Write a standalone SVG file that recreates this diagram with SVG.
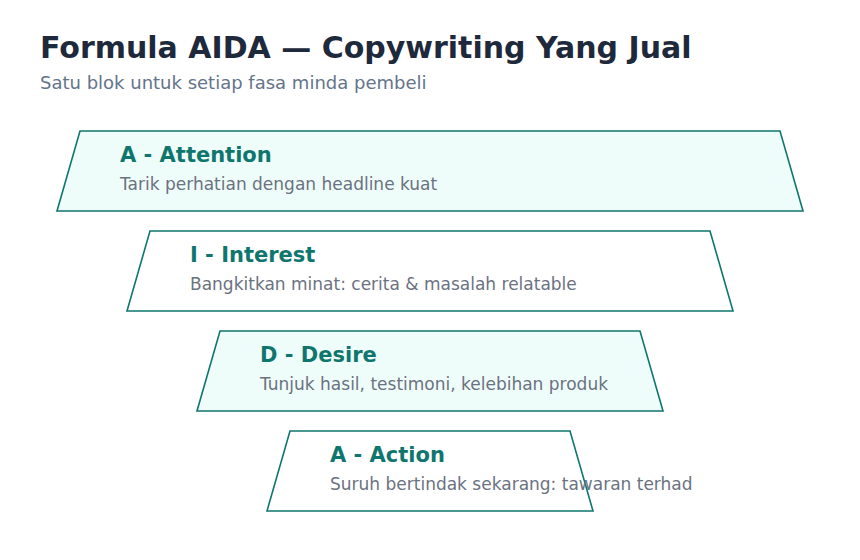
<svg xmlns="http://www.w3.org/2000/svg" width="860" height="560" viewBox="0 0 860 560">
<style>
.title{font-family:"DejaVu Sans",sans-serif;font-weight:bold;font-size:30px;fill:#1e293b}
.sub{font-family:"DejaVu Sans",sans-serif;font-size:18px;fill:#64748b}
.shape{stroke:#0f766e;stroke-width:1.6;stroke-linejoin:miter}
.tint{fill:#effdfa}
.plain{fill:#ffffff}
.nt{font-family:"DejaVu Sans",sans-serif;font-weight:bold;font-size:21px;fill:#0f766e}
.nd{font-family:"DejaVu Sans",sans-serif;font-size:17px;fill:#6b7280}
</style>
<rect width="860" height="560" fill="#ffffff"/>
<text class="title" x="40" y="58">Formula AIDA — Copywriting Yang Jual</text>
<text class="sub" x="40" y="89">Satu blok untuk setiap fasa minda pembeli</text>
<g id="connectors"></g>
<g id="node-attention">
<polygon class="shape tint" points="80,131 780,131 803,211 57,211"/>
<text class="nt" x="120" y="162">A - Attention</text>
<text class="nd" x="120" y="190">Tarik perhatian dengan headline kuat</text>
</g>
<g id="node-interest">
<polygon class="shape plain" points="150,231 710,231 733,311 127,311"/>
<text class="nt" x="190" y="262">I - Interest</text>
<text class="nd" x="190" y="290">Bangkitkan minat: cerita &amp; masalah relatable</text>
</g>
<g id="node-desire">
<polygon class="shape tint" points="220,331 640,331 663,411 197,411"/>
<text class="nt" x="260" y="362">D - Desire</text>
<text class="nd" x="260" y="390">Tunjuk hasil, testimoni, kelebihan produk</text>
</g>
<g id="node-action">
<polygon class="shape plain" points="290,431 570,431 593,511 267,511"/>
<text class="nt" x="330" y="462">A - Action</text>
<text class="nd" x="330" y="490">Suruh bertindak sekarang: tawaran terhad</text>
</g>
</svg>
